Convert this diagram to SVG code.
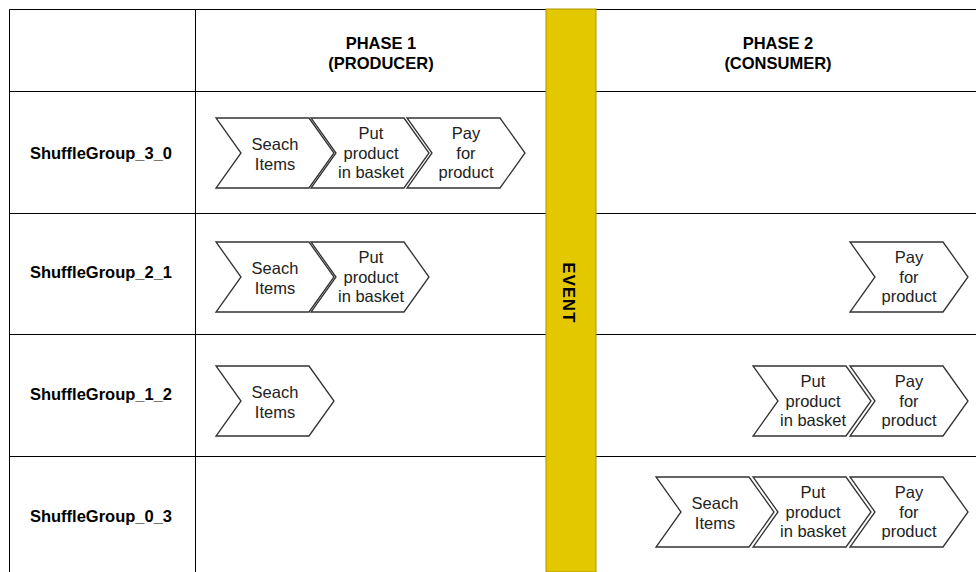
<svg xmlns="http://www.w3.org/2000/svg" width="976" height="572" viewBox="0 0 976 572">
<style>
.grid{stroke:#000;stroke-width:1;fill:none}
.lbl{font-family:"Liberation Sans",Arial,sans-serif;font-size:16.5px;font-weight:bold;fill:#000}
.ct{font-family:"Liberation Sans",Arial,sans-serif;font-size:16.5px;fill:#222;text-anchor:middle}
.chev{fill:#fff;stroke:#333;stroke-width:1.3}
</style>
<defs>
<path id="chev" d="M0,0 L93,0 L118,35 L93,70 L0,70 L25,35 Z"/>
</defs>
<rect width="976" height="572" fill="#fff"/>
<g id="table">
<path class="grid" d="M9.5,572 V9.5 H976 M195.5,9.5 V572 M9.5,91.5 H976 M9.5,213.5 H976 M9.5,334.5 H976 M9.5,456.5 H976"/>
</g>
<g id="headers">
<text class="lbl" text-anchor="middle" x="381" y="49">PHASE 1</text>
<text class="lbl" text-anchor="middle" x="381" y="68.5">(PRODUCER)</text>
<text class="lbl" text-anchor="middle" x="778" y="49">PHASE 2</text>
<text class="lbl" text-anchor="middle" x="778" y="68.5">(CONSUMER)</text>
</g>
<g id="rowlabels">
<text class="lbl" text-anchor="middle" x="101" y="159">ShuffleGroup_3_0</text>
<text class="lbl" text-anchor="middle" x="101" y="278">ShuffleGroup_2_1</text>
<text class="lbl" text-anchor="middle" x="101" y="400">ShuffleGroup_1_2</text>
<text class="lbl" text-anchor="middle" x="101" y="522">ShuffleGroup_0_3</text>
</g>
<g id="event">
<rect x="546" y="9" width="50" height="563" fill="#e3c800" stroke="#b09500" stroke-width="1"/>
<text class="lbl" text-anchor="middle" letter-spacing="1.2" transform="translate(563,293) rotate(90)">EVENT</text>
</g>
<g id="r1-search"><use href="#chev" class="chev" x="216" y="118"/><text class="ct" x="275" y="149.5">Seach</text><text class="ct" x="275" y="169.5">Items</text></g>
<g id="r1-put"><use href="#chev" class="chev" x="311" y="118"/><text class="ct" x="371" y="139">Put</text><text class="ct" x="371" y="158.5">product</text><text class="ct" x="371" y="178">in basket</text></g>
<g id="r1-pay"><use href="#chev" class="chev" x="407" y="118"/><text class="ct" x="466" y="139">Pay</text><text class="ct" x="466" y="158.5">for</text><text class="ct" x="466" y="178">product</text></g>
<g id="r2-search"><use href="#chev" class="chev" x="216" y="242"/><text class="ct" x="275" y="273.5">Seach</text><text class="ct" x="275" y="293.5">Items</text></g>
<g id="r2-put"><use href="#chev" class="chev" x="311" y="242"/><text class="ct" x="371" y="263">Put</text><text class="ct" x="371" y="282.5">product</text><text class="ct" x="371" y="302">in basket</text></g>
<g id="r2-pay"><use href="#chev" class="chev" x="850" y="242"/><text class="ct" x="909" y="263">Pay</text><text class="ct" x="909" y="282.5">for</text><text class="ct" x="909" y="302">product</text></g>
<g id="r3-search"><use href="#chev" class="chev" x="216" y="366"/><text class="ct" x="275" y="397.5">Seach</text><text class="ct" x="275" y="417.5">Items</text></g>
<g id="r3-put"><use href="#chev" class="chev" x="753" y="366"/><text class="ct" x="813" y="387">Put</text><text class="ct" x="813" y="406.5">product</text><text class="ct" x="813" y="426">in basket</text></g>
<g id="r3-pay"><use href="#chev" class="chev" x="850" y="366"/><text class="ct" x="909" y="387">Pay</text><text class="ct" x="909" y="406.5">for</text><text class="ct" x="909" y="426">product</text></g>
<g id="r4-search"><use href="#chev" class="chev" x="656" y="477"/><text class="ct" x="715" y="508.5">Seach</text><text class="ct" x="715" y="528.5">Items</text></g>
<g id="r4-put"><use href="#chev" class="chev" x="753" y="477"/><text class="ct" x="813" y="498">Put</text><text class="ct" x="813" y="517.5">product</text><text class="ct" x="813" y="537">in basket</text></g>
<g id="r4-pay"><use href="#chev" class="chev" x="850" y="477"/><text class="ct" x="909" y="498">Pay</text><text class="ct" x="909" y="517.5">for</text><text class="ct" x="909" y="537">product</text></g>
<g id="connectors"/>
</svg>
